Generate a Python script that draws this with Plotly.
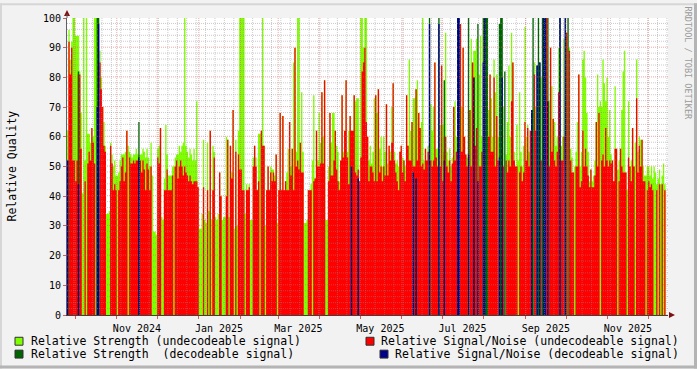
import plotly.graph_objects as go
import pandas as pd

# ---------------- data (one value per day) ----------------
start_date = "2024-09-25"

str_undec = [
    62, 96, 86, 92, 100, 100, 94, 94, 94, 82,
    68, 41, 100, 52, 100, 61, 61, 58, 63, 60,
    100, 100, 100, None, 89, 80, 70, 65, 57, 34,
    34, 35, 58, 54, 50, 52, 47, 47, 48, 52,
    54, 54, 54, 55, 62, 57, 55, 54, 53, 54,
    54, 56, 54, 54, 54, 54, 56, 55, 53, 56,
    53, 50, 58, 47, 28, 28, 27, 56, 57, 63,
    33, 32, 46, 64, 54, 47, 47, 47, 50, 50,
    53, 54, 54, 57, 55, 57, 58, 100, 57, 55,
    53, 56, 54, 52, 56, 52, 72, 43, 29, 29,
    34, 59, 32, 31, 58, 35, 62, 32, 57, 55,
    33, 32, 34, 48, 40, 32, 33, 33, 60, 59,
    33, 57, 48, 69, 29, 59, 30, 62, 100, 100,
    100, 100, 34, 44, 42, 44, 32, 32, 53, 57,
    53, 42, 61, 61, 62, 100, 57, 30, 42, 50,
    42, 50, 49, 49, 47, 54, 31, 42, 68, 42,
    67, 42, 45, 48, 56, 65, 50, 56, 85, 90,
    55, 100, 100, 58, 75, 55, 31, 31, 32, 42,
    42, 44, 52, 74, 46, 62, 52, 68, 58, 75,
    60, 79, 32, 32, 50, 68, 58, 68, 68, 62,
    57, 55, 45, 52, 74, 55, 62, 79, 55, 62,
    67, 62, 62, 74, 72, 73, 73, 45, 100, 100,
    90, 100, 100, 60, 52, 57, 51, 55, 73, 74,
    68, 76, 56, 60, 50, 60, 55, 71, 51, 57,
    55, 70, 78, 55, 51, 52, 50, 55, 57, 53,
    52, 50, 74, 57, 86, 62, 65, 73, 73, 76,
    79, 68, 63, 65, 100, 52, 56, 52, 57, None,
    71, 62, 70, 85, 56, 56, None, 64, 84, 64,
    60, 95, 55, 52, 56, 50, 53, 70, 72, 60,
    None, None, 98, 70, 90, 60, 54, 53, None, 69,
    93, 85, 89, 89, 93, None, 81, 94, 60, None,
    None, None, None, 69, 81, 73, 60, 86, 75, 81,
    60, None, None, None, 70, None, 54, 65, 84, 60,
    95, 85, 55, 50, 64, 52, 75, 55, 50, 57,
    97, 60, 64, 55, 62, None, None, 85, 70, None,
    None, None, 80, None, None, None, 100, None, 72, 90,
    77, 66, 65, 57, 60, 90, None, 57, 60, 93,
    None, 95, None, 90, 56, 53, 48, 50, 55, 65,
    81, 50, 55, 86, 89, 80, 68, 55, 45, 49,
    45, 47, 52, 65, 81, 70, 72, 70, 86, 78,
    72, 80, 60, 69, 54, 52, 45, 77, 56, 49,
    52, 56, 69, 82, 89, 48, 42, 72, 50, 52,
    63, 50, 58, 86, 55, 60, 59, 59, 50, 47,
    47, 50, 50, 47, 50, 46, 50, 48, 44, 46,
    49, 44, 47, 51, 44,
]

snr_undec = [
    None, 92, 81, 90, 52, 52, 45, 52, 81, 81,
    56, None, None, 45, None, 51, 55, 52, 63, 58,
    51, None, None, None, 85, 76, 70, 57, 55, None,
    None, None, 57, 51, 42, 44, 42, None, 42, 45,
    50, 53, 45, 48, 62, None, 53, 51, 51, 52,
    51, 52, 52, 52, 52, 48, 52, 49, 42, 51,
    49, 42, 50, None, None, None, None, 53, 51, 63,
    None, None, 42, 42, 49, 42, 42, 42, 47, None,
    50, 52, 46, 50, 52, 50, 47, 50, 48, 47,
    45, 47, 45, 44, 45, 45, 45, 43, None, None,
    None, 43, None, None, 42, None, 62, None, 42, 53,
    None, None, None, 48, 40, None, None, None, 40, 59,
    None, 57, 46, 69, None, 55, None, 54, 49, 49,
    42, 42, None, 42, 42, 43, None, None, 50, 57,
    50, 42, 45, None, 62, 57, 57, None, 42, 50,
    42, 48, 45, 48, 45, 54, None, 42, 68, 42,
    67, 42, 45, 42, 42, 65, 47, 56, 42, 90,
    50, 52, 49, 58, 48, 48, None, None, None, 42,
    42, 42, None, 45, 46, 62, 50, 50, 51, 75,
    51, 79, None, None, 45, 68, 47, 47, 52, 62,
    49, 45, 42, 52, 74, 53, 62, 79, 53, 44,
    67, 62, 62, 74, 48, 47, 49, 45, 53, 82,
    85, 90, 65, 60, 45, 50, 50, 48, 45, 74,
    45, 76, 48, 50, 45, 50, 47, 71, 47, 57,
    52, 58, 78, 52, 48, 45, 42, 55, 57, 48,
    52, 45, 74, 57, 52, 52, 65, 50, 50, 76,
    52, 68, 63, 50, 51, 49, 56, 52, 55, None,
    52, 50, 52, 85, 53, 50, None, 50, 84, 45,
    55, 60, 50, 48, 52, 45, 51, 70, 52, 55,
    None, None, 98, 55, 90, 60, 54, 50, None, 69,
    50, 85, 57, 57, 63, None, 50, 50, 55, None,
    None, None, None, 60, 81, 55, 55, 80, 50, 67,
    52, None, None, None, 50, None, 52, 48, 52, 50,
    72, 85, 52, 50, 50, None, 48, 50, 45, 48,
    65, 52, 63, 50, 62, None, None, 81, 62, None,
    None, None, 52, None, None, None, 100, None, 50, 90,
    55, 66, 52, 50, 55, 75, None, 52, 52, 60,
    None, 95, None, 89, 52, 48, 48, None, 50, 50,
    81, 43, 45, 62, 50, 56, 50, 47, 43, 49,
    43, 43, 47, 65, 50, 68, None, 52, 54, 50,
    63, 52, 50, 52, 51, 52, 45, 56, 56, None,
    45, 56, 50, 48, 48, 48, None, 53, 50, 45,
    63, 50, None, 73, 48, 57, 50, 59, 45, 45,
    None, 42, 45, 43, 44, 42, None, None, 42, None,
    44, None, 44, None, 42,
]

# days (offset from start_date) with a decodeable signal
dec_days = [0, 8, 22, 23, 53, 211, 216, 257, 259, 269,
            276, 280, 290, 291, 298, 302, 305, 309, 310, 311,
            312, 321, 322, 323, 325, 345, 346, 349, 350, 351,
            353, 354, 355, 357, 366, 370, 372]
dec_str = [52, 82, 100, 100, 65, 50, 46, 48, 46, 100,
           100, 79, 100, 100, 100, 80, 98, 100, 100, 100,
           100, 98, 100, 100, 82, 69, 100, 84, 100, 85,
           100, 100, 100, 100, 100, 100, 100]
dec_snr = [52, 44, 70, 98, 53, 50, 46, 48, 46, 98,
           98, 52, 100, 100, 54, 80, 45, 85, 100, None,
           None, 53, None, 80, None, 69, None, 84, None, 85,
           None, 100, 100, 72, 100, 100, None]

# month labels are centred on their month (rrdtool label precision of 30 days)
tick_dates = ["2024-11-16", "2025-01-16", "2025-03-16", "2025-05-16",
              "2025-07-16", "2025-09-16", "2025-11-16"]
tick_labels = ["Nov 2024", "Jan 2025", "Mar 2025", "May 2025",
               "Jul 2025", "Sep 2025", "Nov 2025"]
y_ticks = list(range(0, 101, 10))

legend_names = ["Relative Strength (undecodeable signal)",
                "Relative Signal/Noise (undecodeable signal)",
                "Relative Strength  (decodeable signal)",
                "Relative Signal/Noise (decodeable signal)"]
colors = ["#80FF00", "#FF0000", "#006400", "#00008C"]

# ---------------- build ----------------
W, H = 697, 369
ML, MR, MT, MB = 67, 29, 15, 54
PW, PH = W - ML - MR, H - MT - MB
FONT = "DejaVu Sans Mono"

n = len(str_undec)
t0 = pd.Timestamp(start_date)
day_edges = pd.date_range(t0, periods=n + 1, freq="D")


def spread(idx, vals):
    out = [None] * n
    for d, v in zip(idx, vals):
        out[d] = v
    return out


def stepped(vals):
    v = [0 if x is None else x for x in vals]
    return v + [v[-1]]


series = [str_undec, snr_undec, spread(dec_days, dec_str), spread(dec_days, dec_snr)]

fig = go.Figure()
for name, vals, col in zip(legend_names, series, colors):
    fig.add_trace(go.Scatter(
        x=day_edges, y=stepped(vals), mode="lines",
        line=dict(width=0, shape="hv"), fill="tozeroy", fillcolor=col,
        name=name, showlegend=False, hoverinfo="skip"))

x_end = t0 + pd.Timedelta(days=446.8)
month_starts = list(pd.date_range("2024-10-01", x_end, freq="MS"))
week_starts = list(pd.date_range("2024-09-30", x_end, freq="7D"))


def px(x):
    return (x - ML) / PW


def py(y):
    return (MT + PH - y) / PH


shapes = []
# grid drawn above the data, rrdtool style
minor_c = "rgba(140,140,140,0.45)"
major_c = "rgba(222,95,95,0.55)"
for v in range(2, 100, 2):
    if v % 10 == 0:
        continue
    shapes.append(dict(type="line", xref="paper", yref="y", x0=0, x1=1, y0=v + 0.17, y1=v + 0.17,
                       line=dict(color=minor_c, width=1, dash="1px,1px"), layer="above"))
for v in range(10, 101, 10):
    shapes.append(dict(type="line", xref="paper", yref="y", x0=0, x1=1, y0=v + 0.17, y1=v + 0.17,
                       line=dict(color=major_c, width=1, dash="1px,1px"), layer="above"))
for d in week_starts:
    shapes.append(dict(type="line", xref="x", yref="paper", x0=d, x1=d, y0=0, y1=1,
                       line=dict(color=minor_c, width=1, dash="1px,1px"), layer="above"))
for d in month_starts:
    shapes.append(dict(type="line", xref="x", yref="paper", x0=d, x1=d, y0=0, y1=1,
                       line=dict(color=major_c, width=1, dash="1px,1px"), layer="above"))

# axis arrows
arrow_c = "#7F1010"
shapes.append(dict(type="path", xref="paper", yref="paper",
                   path=f"M {px(64)} {py(13)} L {px(67)} {py(7)} L {px(70)} {py(13)} Z",
                   fillcolor=arrow_c, line=dict(width=0)))
shapes.append(dict(type="line", xref="paper", yref="paper", x0=px(67), x1=px(67), y0=1, y1=py(11),
                   line=dict(color="#606060", width=1)))
shapes.append(dict(type="path", xref="paper", yref="paper",
                   path=f"M {px(669)} {py(312)} L {px(675)} {py(315)} L {px(669)} {py(318)} Z",
                   fillcolor=arrow_c, line=dict(width=0)))

# frame shading
shapes.append(dict(type="rect", xref="paper", yref="paper", x0=px(0), x1=px(W), y0=py(0), y1=py(2),
                   fillcolor="#D6D6D6", line=dict(width=0)))
shapes.append(dict(type="rect", xref="paper", yref="paper", x0=px(0), x1=px(2), y0=py(0), y1=py(H),
                   fillcolor="#D6D6D6", line=dict(width=0)))
shapes.append(dict(type="rect", xref="paper", yref="paper", x0=px(0), x1=px(W), y0=py(H - 3), y1=py(H),
                   fillcolor="#B4B4B4", line=dict(width=0)))
shapes.append(dict(type="rect", xref="paper", yref="paper", x0=px(W - 3), x1=px(W), y0=py(0), y1=py(H),
                   fillcolor="#B4B4B4", line=dict(width=0)))

# legend boxes + labels
legend_pos = [(15, 341.5, 30), (366, 341.5, 380), (15, 354.5, 30), (380, 354.5, 394)]
annotations = []
for (bx, cy, tx), name, col in zip(legend_pos, legend_names, colors):
    shapes.append(dict(type="rect", xref="paper", yref="paper",
                       x0=px(bx), x1=px(bx + 8), y0=py(cy - 4), y1=py(cy + 4),
                       fillcolor=col, line=dict(color="#303030", width=1)))
    annotations.append(dict(xref="paper", yref="paper", x=px(tx), y=py(cy), text=name,
                            showarrow=False, xanchor="left", yanchor="middle",
                            borderpad=0, font=dict(family=FONT, size=11.5, color="#000000")))

annotations.append(dict(xref="paper", yref="paper", x=px(11), y=py(165), text="Relative Quality",
                        textangle=-90, showarrow=False, xanchor="center", yanchor="middle",
                        borderpad=0, font=dict(family=FONT, size=11.5, color="#000000")))
annotations.append(dict(xref="paper", yref="paper", x=px(688), y=py(60), text="RRDTOOL / TOBI OETIKER",
                        textangle=90, showarrow=False, xanchor="center", yanchor="middle",
                        borderpad=0, font=dict(family=FONT, size=8.5, color="#9A9A9A")))

fig.update_layout(
    width=W, height=H,
    margin=dict(l=ML, r=MR, t=MT, b=MB, pad=0),
    paper_bgcolor="#F2F2F2", plot_bgcolor="#FFFFFF",
    showlegend=False,
    shapes=shapes, annotations=annotations,
    xaxis=dict(type="date", range=[t0, x_end], tickvals=tick_dates, ticktext=tick_labels,
               showgrid=False, zeroline=False, showline=True, linecolor="#404040", linewidth=1,
               ticks="", ticklabelstandoff=4,
               minor=dict(tickvals=month_starts, ticks="outside", ticklen=3,
                          tickcolor="#D06060", showgrid=False),
               tickfont=dict(family=FONT, size=10, color="#000000"), layer="above traces"),
    yaxis=dict(range=[0, 100], tickvals=y_ticks, showgrid=False, zeroline=False,
               showline=True, linecolor="#606060", linewidth=1,
               ticks="outside", ticklen=3, tickcolor="#D06060",
               tickfont=dict(family=FONT, size=10, color="#000000"), layer="above traces"),
)

fig.write_html("out.html")
